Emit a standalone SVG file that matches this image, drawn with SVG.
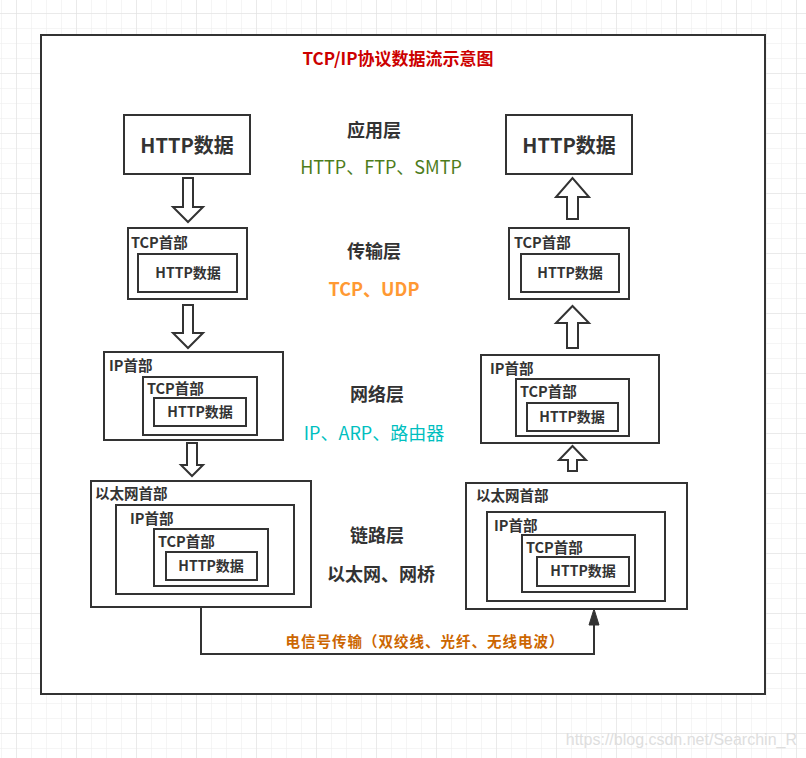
<svg xmlns="http://www.w3.org/2000/svg" width="806" height="758" viewBox="0 0 806 758">
<defs>
<pattern id="grid" x="1" y="-2" width="15" height="15" patternUnits="userSpaceOnUse">
<path d="M0 0H15M0 0V15" fill="none" stroke="#ebebeb" stroke-width="1"/>
</pattern>
<pattern id="grid4" x="16" y="13" width="60" height="60" patternUnits="userSpaceOnUse">
<path d="M0 0H60M0 0V60" fill="none" stroke="#e0e0e0" stroke-width="1"/>
</pattern>
</defs>
<style>
.box{fill:#fff;stroke:#333;stroke-width:2}
.arr{fill:#fff;stroke:#333;stroke-width:2;stroke-linejoin:miter}
text{font-family:"Noto Sans CJK SC","Microsoft YaHei",sans-serif;fill:#333}
.hd{font-size:14.5px;font-weight:bold}
.in{font-size:14px;font-weight:bold;text-anchor:middle}
.big{font-size:20px;font-weight:bold;text-anchor:middle}
.layer{font-size:18px;font-weight:bold;text-anchor:middle}
.proto{font-size:18px;text-anchor:middle}
</style>
<rect width="806" height="758" fill="#fff"/>
<rect width="806" height="758" fill="url(#grid)"/>
<rect width="806" height="758" fill="url(#grid4)"/>
<text x="797" y="745" font-size="16" style="font-family:'Liberation Sans',Arial,sans-serif;fill:#dedede" text-anchor="end">https://blog.csdn.net/Searchin_R</text>
<rect id="frame" x="41" y="35" width="724" height="659" class="box"/>
<text id="title" x="398" y="65" font-size="17" font-weight="bold" text-anchor="middle" style="fill:#CC0000">TCP/IP协议数据流示意图</text>

<g id="layer-labels">
<text x="374" y="137" class="layer">应用层</text>
<text x="381" y="174" class="proto" style="fill:#4d7c1b">HTTP、FTP、SMTP</text>
<text x="374" y="258" class="layer">传输层</text>
<text x="374" y="296" font-size="18" font-weight="bold" text-anchor="middle" style="fill:#FF9933">TCP、UDP</text>
<text x="377" y="401" class="layer">网络层</text>
<text x="374" y="440" class="proto" style="fill:#00BFBF">IP、ARP、路由器</text>
<text x="377" y="542" class="layer">链路层</text>
<text x="381" y="581" font-size="18" font-weight="bold" text-anchor="middle">以太网、网桥</text>
</g>

<g id="L1">
<rect x="124" y="115" width="126" height="59" class="box"/>
<text x="187" y="153" class="big">HTTP数据</text>
</g>
<g id="L2">
<rect x="128" y="228" width="119" height="71" class="box"/>
<text x="131" y="248" class="hd">TCP首部</text>
<rect x="138" y="254" width="99" height="38" class="box"/>
<text x="188" y="278" class="in">HTTP数据</text>
</g>
<g id="L3">
<rect x="104" y="352" width="179" height="88" class="box"/>
<text x="109" y="371" class="hd">IP首部</text>
<rect x="143" y="377" width="114" height="58" class="box"/>
<text x="147" y="394" class="hd">TCP首部</text>
<rect x="154" y="398" width="92" height="28" class="box"/>
<text x="200" y="417" class="in">HTTP数据</text>
</g>
<g id="L4">
<rect x="91" y="481" width="220" height="126" class="box"/>
<text x="95" y="499" class="hd">以太网首部</text>
<rect x="116" y="505" width="178" height="89" class="box"/>
<text x="130" y="524" class="hd">IP首部</text>
<rect x="154" y="529" width="114" height="57" class="box"/>
<text x="158" y="547" class="hd">TCP首部</text>
<rect x="166" y="552" width="91" height="28" class="box"/>
<text x="211" y="571" class="in">HTTP数据</text>
</g>

<g id="R1">
<rect x="506" y="115" width="126" height="59" class="box"/>
<text x="569" y="153" class="big">HTTP数据</text>
</g>
<g id="R2">
<rect x="509" y="228" width="120" height="71" class="box"/>
<text x="514" y="248" class="hd">TCP首部</text>
<rect x="521" y="254" width="98" height="38" class="box"/>
<text x="570" y="278" class="in">HTTP数据</text>
</g>
<g id="R3">
<rect x="481" y="355" width="178" height="88" class="box"/>
<text x="490" y="374" class="hd">IP首部</text>
<rect x="516" y="379" width="113" height="57" class="box"/>
<text x="520" y="397" class="hd">TCP首部</text>
<rect x="527" y="403" width="91" height="28" class="box"/>
<text x="572" y="422" class="in">HTTP数据</text>
</g>
<g id="R4">
<rect x="466" y="483" width="221" height="126" class="box"/>
<text x="476" y="501" class="hd">以太网首部</text>
<rect x="487" y="512" width="178" height="89" class="box"/>
<text x="494" y="531" class="hd">IP首部</text>
<rect x="522" y="535" width="113" height="57" class="box"/>
<text x="526" y="553" class="hd">TCP首部</text>
<rect x="537" y="557" width="92" height="29" class="box"/>
<text x="583" y="576" class="in">HTTP数据</text>
</g>

<g id="connectors">
<path class="arr" d="M183 178H193V207H203L188 222L173 207H183Z"/>
<path class="arr" d="M183 305H193V333H203L188 348L173 333H183Z"/>
<path class="arr" d="M187 443H197V465H203L192 476L181 465H187Z"/>
<path class="arr" d="M567 219H578V197H589L572.5 178L556 197H567Z"/>
<path class="arr" d="M567 348H578V323H589L572.5 306L556 323H567Z"/>
<path class="arr" d="M568 471H577V460H586L572.5 446L559 460H568Z"/>
<path d="M201 607V654H594V622" fill="none" stroke="#333" stroke-width="2"/>
<path d="M594 609L599 625H589Z" fill="#333" stroke="#333" stroke-width="1"/>
<text x="425" y="647" font-size="14.5" font-weight="bold" letter-spacing="1" text-anchor="middle" style="fill:#CC6600">电信号传输（双绞线、光纤、无线电波）</text>
</g>
</svg>
